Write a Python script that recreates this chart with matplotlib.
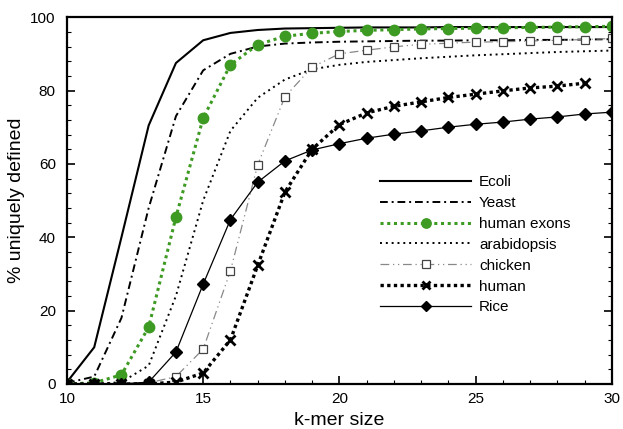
import matplotlib
matplotlib.use("Agg")
import matplotlib.pyplot as plt
from matplotlib.ticker import MultipleLocator

plt.rcParams['font.family'] = ['Liberation Sans', 'DejaVu Sans']

# k-mer sizes
k = list(range(10, 31))
k_human = list(range(10, 30))

# % uniquely defined
ecoli = [0.5, 10, 40, 70.5, 87.5, 93.7, 95.7, 96.5, 96.9, 97.0, 97.1, 97.2, 97.2, 97.2,
         97.3, 97.3, 97.3, 97.3, 97.3, 97.3, 97.3]
yeast = [0.3, 2, 18, 48, 73, 85.5, 90, 92, 92.8, 93.1, 93.3, 93.4, 93.5, 93.6,
         93.6, 93.7, 93.7, 93.8, 93.8, 93.9, 94]
exons = [0, 0.3, 2.5, 15.5, 45.5, 72.5, 87, 92.5, 94.8, 95.6, 96.1, 96.4, 96.6, 96.8,
         96.9, 97.0, 97.1, 97.2, 97.3, 97.4, 97.5]
arabidopsis = [0, 0, 0.5, 5, 24, 50, 69, 78, 83, 85.8, 87, 87.8, 88.3, 88.8,
               89.2, 89.6, 89.9, 90.2, 90.5, 90.7, 90.9]
chicken = [0, 0, 0, 0.3, 2, 9.5, 30.8, 59.7, 78.3, 86.4, 90, 91, 91.9, 92.6,
           92.9, 93.2, 93.3, 93.5, 93.7, 93.9, 94.2]
human = [0, 0, 0, 0, 0.5, 3, 12, 32.3, 52.3, 64, 70.7, 73.9, 75.7, 76.9,
         78.1, 79, 79.9, 80.7, 81.2, 82]
rice = [0, 0, 0, 0.5, 8.7, 27.2, 44.8, 55, 60.8, 63.8, 65.5, 67, 68.1, 69,
        70, 70.8, 71.4, 72.2, 72.8, 73.6, 74.1]

green = '#3d9a22'

fig = plt.figure(figsize=(6.23, 4.29), dpi=100)
ax = fig.add_axes([0.1075, 0.105, 0.8745, 0.855])

ax.plot(k, ecoli, color='black', lw=1.5, label='Ecoli')
ax.plot(k, yeast, color='black', lw=1.4, dashes=(4, 2, 1, 2), label='Yeast')
ax.plot(k, exons, color=green, lw=2.2, dashes=(1, 1.2), marker='o', ms=7.5,
        label='human exons')
ax.plot(k, arabidopsis, color='black', lw=1.4, dashes=(1, 2), label='arabidopsis')
ax.plot(k, chicken, color='#888888', lw=0.9, dashes=(7, 3, 1, 3, 1, 3), marker='s',
        ms=6, mfc='white', mec='#444444', mew=0.9, label='chicken')
ax.plot(k_human, human, color='black', lw=2.4, dashes=(1, 1), marker='x', ms=7,
        mew=2, label='human')
ax.plot(k, rice, color='black', lw=0.9, marker='D', ms=6, label='Rice')

ax.set_xlim(10, 30)
ax.set_ylim(0, 100)
ax.xaxis.set_major_locator(MultipleLocator(5))
ax.xaxis.set_minor_locator(MultipleLocator(1))
ax.yaxis.set_major_locator(MultipleLocator(20))
ax.yaxis.set_minor_locator(MultipleLocator(4))
ax.tick_params(which='both', direction='in', right=True, top=False, labelsize=11)
ax.tick_params(which='major', length=6, width=1.2)
ax.tick_params(axis='y', pad=8)
ax.tick_params(axis='x', pad=6)
ax.tick_params(which='minor', length=3, width=0.8)
for s in ax.spines.values():
    s.set_linewidth(1.6)

ax.set_xlabel('k-mer size', fontsize=14)
ax.set_ylabel('% uniquely defined', fontsize=14)

ax.legend(loc='upper left', bbox_to_anchor=(0.56, 0.59), frameon=False,
          fontsize=11, handlelength=6, handletextpad=0.5, labelspacing=0.45,
          borderpad=0, numpoints=1, markerscale=0.9)

fig.savefig('out.png', dpi=100)
